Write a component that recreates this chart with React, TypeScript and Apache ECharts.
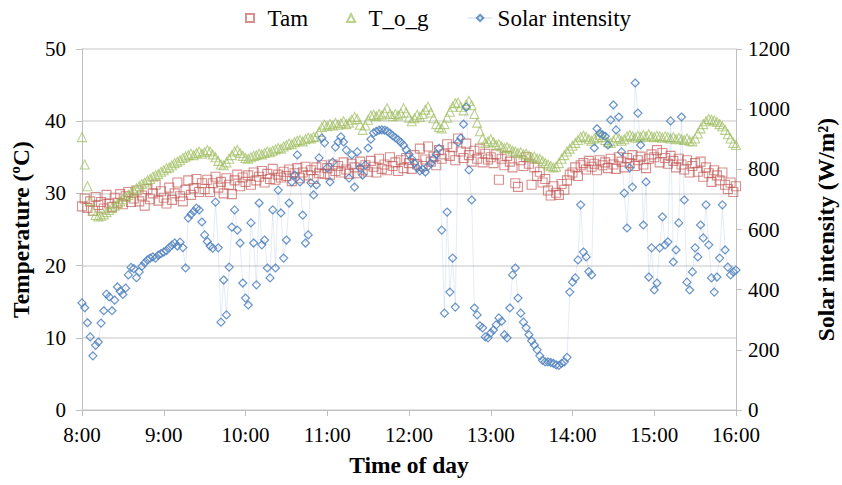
import React, { useEffect, useRef } from "react";
import * as echarts from "echarts";

// Readings every 2 minutes from 8:00 to 16:00 (241 samples per series)
const STEP_MIN = 2;
const hourLabels = ["8:00", "9:00", "10:00", "11:00", "12:00", "13:00", "14:00", "15:00", "16:00"];

// Ambient air temperature (ºC)
const tam = [
  28.2, 29.3, 28.0, 28.9, 27.6, 29.5, 28.4, 28.8, 27.9, 29.8, 28.6, 28.1, 29.4, 28.7, 29.9,
  28.5, 29.6, 30.2, 28.8, 29.3, 30.4, 28.9, 29.7, 28.3, 30.6, 29.2, 30.0, 31.2, 29.0, 30.3,
  29.4, 28.6, 30.8, 29.1, 30.0, 31.5, 29.6, 28.9, 30.5, 31.8, 29.8, 30.7, 32.0, 30.2, 31.4,
  30.6, 31.9, 30.2, 31.4, 32.3, 30.8, 31.6, 30.0, 32.1, 31.2, 29.9, 31.8, 32.6, 31.0, 32.2,
  31.6, 32.5, 31.2, 32.9, 31.8, 32.3, 33.1, 31.5, 32.7, 32.0, 33.4, 31.9, 32.6, 32.2, 33.0,
  32.4, 33.3, 31.7, 32.8, 33.5, 32.1, 32.9, 33.7, 32.5, 33.2, 32.0, 33.6, 32.8, 33.9, 32.7,
  33.5, 32.6, 34.0, 33.1, 33.8, 32.9, 34.3, 33.3, 32.7, 34.1, 33.6, 32.8, 34.4, 33.2, 33.9,
  33.0, 34.5, 33.7, 32.9, 34.8, 33.4, 34.0, 33.2, 35.0, 33.8, 34.3, 33.1, 34.6, 33.5, 34.9,
  34.2, 33.4, 35.3, 34.0, 36.2, 33.8, 34.7, 36.5, 34.4, 35.1, 33.9, 36.0, 34.8, 35.4, 36.8,
  35.2, 36.4, 34.6, 37.6, 35.8, 34.9, 36.9, 35.3, 34.4, 35.9, 34.8, 36.2, 34.3, 35.5, 34.7,
  35.0, 34.2, 35.4, 31.9, 34.8, 33.9, 35.2, 34.4, 33.6, 31.4, 30.9, 34.6, 33.8, 35.0, 34.1,
  31.2, 33.6, 32.4, 33.0, 31.5, 32.0, 30.4, 29.7, 31.0, 30.1, 29.8, 31.3, 30.5, 31.8, 32.6,
  32.9, 33.6, 32.4, 33.9, 34.2, 33.3, 34.5, 33.7, 34.1, 33.2, 34.6, 33.9, 34.3, 33.5, 34.8,
  34.0, 33.4, 35.0, 34.4, 33.6, 34.9, 34.2, 35.3, 33.8, 34.6, 35.1, 34.0, 33.5, 34.8, 35.4,
  35.0, 36.0, 34.3, 35.6, 34.9, 34.1, 35.2, 34.5, 33.6, 34.8, 34.0, 33.3, 34.6, 32.9, 33.8,
  34.2, 33.0, 34.4, 32.3, 33.6, 32.8, 31.6, 33.2, 32.5, 31.8, 32.9, 31.2, 30.6, 31.5, 30.2,
  31.0,
];

// Outer glass temperature (ºC)
const tog = [
  37.8, 34.0, 31.0, 29.0, 27.6, 27.0, 26.8, 26.9, 27.1, 27.4, 27.7, 28.0, 28.3, 28.6, 28.9,
  29.2, 29.5, 29.8, 30.1, 30.4, 30.7, 31.0, 31.3, 31.5, 31.8, 32.0, 32.3, 32.5, 32.7, 33.0,
  33.2, 33.5, 33.6, 33.9, 34.2, 34.4, 34.6, 34.9, 35.1, 35.3, 35.5, 35.3, 35.6, 35.8, 35.5,
  35.7, 36.0, 35.8, 35.4, 35.0, 34.5, 34.0, 33.9, 34.3, 34.8, 35.3, 35.8, 36.0, 35.6, 35.2,
  34.9, 34.8, 35.0, 35.2, 35.3, 35.5, 35.4, 35.6, 35.8, 35.7, 35.9, 36.1, 36.3, 36.2, 36.5,
  36.7, 36.9, 36.8, 37.1, 37.3, 37.4, 37.2, 37.5, 37.7, 37.6, 37.8, 37.9, 38.5, 39.2, 39.5,
  39.3, 39.6, 39.4, 39.8, 39.5, 39.7, 40.0, 39.6, 39.8, 40.2, 40.6, 40.3, 39.5, 38.8, 39.4,
  40.2, 40.8, 40.9, 40.7, 41.0, 40.8, 41.2, 41.8, 41.0, 40.7, 41.0, 40.8, 41.1, 41.8, 41.2,
  40.5, 40.0, 40.4, 40.9, 40.6, 41.0, 41.6, 42.0, 41.2, 40.4, 39.6, 39.2, 39.0, 39.6, 40.5,
  41.3, 42.0, 42.5, 42.6, 42.0, 41.5, 42.3, 42.8, 42.2, 41.0, 39.8, 38.6, 37.6, 37.0, 37.2,
  37.5, 37.1, 36.7, 36.8, 36.5, 36.3, 36.4, 36.2, 35.9, 35.8, 35.6, 35.7, 35.4, 35.5, 35.2,
  35.0, 35.1, 34.8, 34.8, 34.5, 34.2, 34.0, 33.8, 33.6, 33.7, 34.2, 34.8, 35.3, 35.8, 36.2,
  36.6, 37.0, 37.4, 37.8, 38.0, 37.8, 37.5, 37.3, 37.6, 37.8, 38.1, 37.8, 37.4, 37.1, 37.0,
  37.3, 37.8, 37.6, 37.3, 37.5, 37.9, 38.1, 37.9, 37.7, 38.0, 37.8, 38.1, 37.9, 38.2, 37.9,
  37.8, 38.0, 37.9, 37.7, 37.9, 37.8, 37.6, 37.8, 37.5, 37.7, 37.5, 37.4, 37.6, 37.3, 37.2,
  37.6, 38.3, 39.0, 39.6, 40.0, 40.3, 40.2, 40.1, 39.9, 39.6, 39.3, 38.8, 38.2, 37.6, 37.0,
  36.7,
];

// Solar intensity (W/m²)
const solar = [
  356, 340, 290, 243, 180, 215, 226, 289, 330, 385, 376, 330, 365, 409, 395,
  384, 405, 449, 474, 470, 440, 459, 478, 489, 499, 505, 509, 505, 515, 520,
  525, 530, 540, 548, 555, 545, 558, 540, 472, 638, 650, 660, 671, 665, 625,
  582, 560, 545, 538, 691, 539, 292, 432, 316, 475, 608, 665, 598, 555, 422,
  372, 349, 622, 555, 416, 688, 549, 565, 472, 439, 665, 472, 731, 655, 505,
  565, 688, 758, 781, 848, 758, 648, 555, 582, 755, 715, 748, 838, 904, 888,
  805, 758, 824, 874, 891, 908, 891, 864, 771, 848, 741, 858, 805, 781, 814,
  871, 900, 921, 926, 930, 931, 930, 927, 920, 912, 905, 898, 890, 880, 865,
  850, 835, 820, 805, 795, 800, 791, 810, 820, 835, 850, 870, 598, 322, 658,
  392, 505, 342, 890, 904, 950, 1007, 798, 698, 339, 316, 280, 273, 243, 240,
  256, 266, 283, 306, 295, 250, 240, 339, 449, 472, 372, 322, 292, 273, 250,
  230, 216, 200, 180, 165, 160, 160, 158, 155, 150, 148, 155, 160, 175, 392,
  425, 439, 499, 682, 525, 509, 460, 449, 871, 935, 920, 915, 910, 881, 964,
  1014, 931, 974, 858, 721, 605, 805, 741, 1087, 987, 881, 615, 758, 442, 539,
  399, 422, 539, 642, 549, 559, 961, 492, 532, 622, 974, 698, 425, 399, 459,
  539, 509, 615, 572, 682, 549, 439, 392, 442, 505, 682, 532, 475, 449, 459,
  465,
];

const FONT = "'Liberation Serif', 'Times New Roman', serif";
const AXIS_GRAY = "#BFBFBF";
const GRID_GRAY = "#D9D9D9";
const RED = "rgba(192,80,77,0.8)";
const GREEN = "rgba(155,187,89,0.85)";
const BLUE = "rgba(79,129,189,0.85)";
const CLEAR = "rgba(255,255,255,0)";

// Small legend markers kept square through symbolKeepAspect
const SQUARE_ICON = "path://M0,0L10,0L10,10L0,10Z";
const TRIANGLE_ICON = "path://M5,0L10,10L0,10Z";

const toPairs = (vals: number[]) => vals.map((v, i) => [i * STEP_MIN, v]);

export default function App() {
  const ref = useRef<HTMLDivElement>(null);

  useEffect(() => {
    if (!ref.current) return;
    const chart = echarts.init(ref.current, undefined, { renderer: "svg" });
    const tickFont = { fontFamily: FONT, fontSize: 21, color: "#000" };
    const nameFont = { fontFamily: FONT, fontSize: 23.5, fontWeight: "bold" as const, color: "#000" };

    chart.setOption({
      animation: false,
      backgroundColor: "#fff",
      legend: {
        top: 6,
        left: 245,
        padding: 0,
        itemWidth: 25,
        itemHeight: 8,
        itemGap: 38,
        symbolKeepAspect: true,
        textStyle: { fontFamily: FONT, fontSize: 23, lineHeight: 24, color: "#000" },
        data: [
          { name: "Tam", icon: SQUARE_ICON },
          { name: "T_o_g", icon: TRIANGLE_ICON },
          { name: "Solar intensity" },
        ],
      },
      grid: { left: 82, right: 106, top: 49, bottom: 75, outerBoundsMode: "none" },
      xAxis: {
        type: "value",
        min: 0,
        max: 480,
        interval: 60,
        name: "Time of day",
        nameLocation: "middle",
        nameGap: 43,
        nameTextStyle: nameFont,
        axisLine: { show: true, lineStyle: { color: AXIS_GRAY } },
        axisTick: { show: true, length: 6, lineStyle: { color: AXIS_GRAY } },
        axisLabel: {
          ...tickFont,
          margin: 14,
          formatter: (v: number) => hourLabels[Math.round(v / 60)] ?? "",
        },
        splitLine: { show: false },
      },
      yAxis: [
        {
          type: "value",
          min: 0,
          max: 50,
          interval: 10,
          name: "Temperature (ºC)",
          nameLocation: "middle",
          nameGap: 49,
          nameTextStyle: nameFont,
          axisLine: { show: true, lineStyle: { color: AXIS_GRAY } },
          axisTick: { show: true, length: 6, lineStyle: { color: AXIS_GRAY } },
          axisLabel: { ...tickFont, margin: 16 },
          splitLine: { show: true, lineStyle: { color: GRID_GRAY, width: 1.5 } },
        },
        {
          type: "value",
          min: 0,
          max: 1200,
          interval: 200,
          name: "Solar intensity (W/m²)",
          nameLocation: "middle",
          nameGap: 78,
          nameTextStyle: nameFont,
          axisLine: { show: true, lineStyle: { color: AXIS_GRAY } },
          axisTick: { show: true, length: 6, lineStyle: { color: AXIS_GRAY } },
          axisLabel: { ...tickFont, margin: 12, formatter: (v: number) => String(v) },
          splitLine: { show: false },
        },
      ],
      series: [
        {
          name: "Tam",
          type: "scatter",
          yAxisIndex: 0,
          symbol: "rect",
          symbolSize: 9,
          data: toPairs(tam),
          itemStyle: { color: CLEAR, borderColor: RED, borderWidth: 1.1 },
        },
        {
          name: "T_o_g",
          type: "scatter",
          yAxisIndex: 0,
          symbol: "triangle",
          symbolSize: 9,
          data: toPairs(tog),
          itemStyle: { color: CLEAR, borderColor: GREEN, borderWidth: 1.1 },
        },
        {
          name: "Solar intensity",
          type: "line",
          yAxisIndex: 1,
          symbol: "diamond",
          symbolSize: 8,
          showSymbol: true,
          showAllSymbol: true,
          data: toPairs(solar),
          lineStyle: { color: "rgba(79,129,189,0.15)", width: 1 },
          itemStyle: { color: CLEAR, borderColor: BLUE, borderWidth: 1.2 },
        },
      ],
    });

    return () => chart.dispose();
  }, []);

  // The chart fills the whole 842×485 window, independent of the body margin
  return <div ref={ref} style={{ position: "fixed", left: 0, top: 0, width: 842, height: 485 }} />;
}
